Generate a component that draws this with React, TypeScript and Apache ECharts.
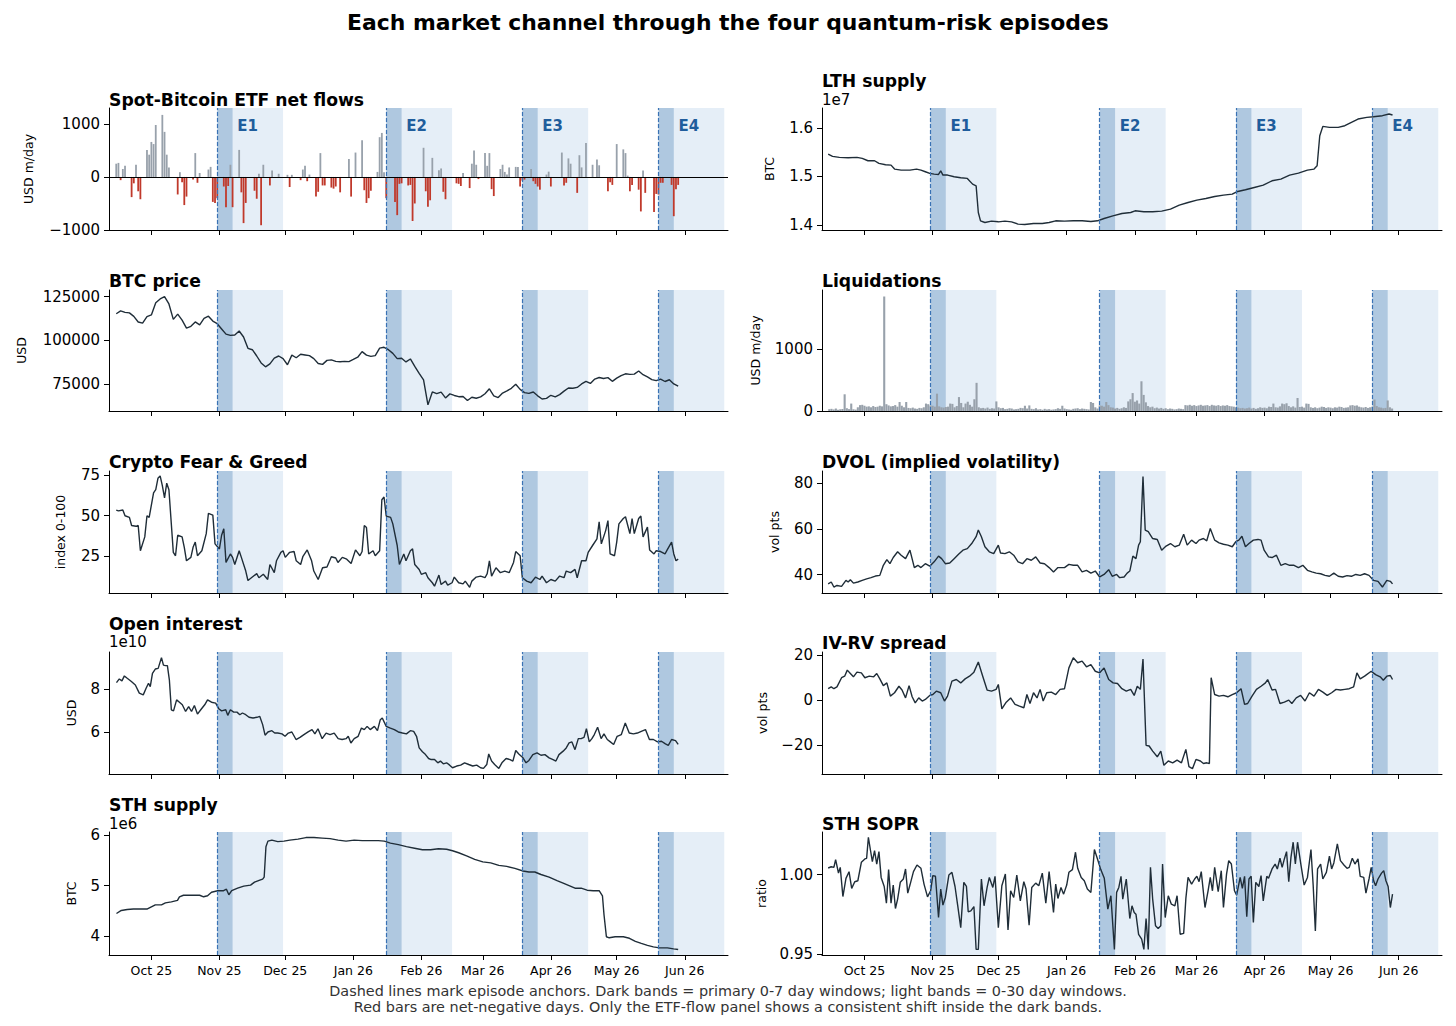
import React, { useEffect, useRef } from "react";
import * as echarts from "echarts";

// ---------------- data ----------------
// All day offsets are days after BASE_DATE.
const BASE_DATE = "2025-10-01";
const X_MIN_DAY = -19.3;
const X_MAX_DAY = 262.7;

const MONTH_TICKS = ["2025-10-01", "2025-11-01", "2025-12-01", "2026-01-01", "2026-02-01", "2026-03-01", "2026-04-01", "2026-05-01", "2026-06-01"];
const MONTH_LABELS = ["Oct 25", "Nov 25", "Dec 25", "Jan 26", "Feb 26", "Mar 26", "Apr 26", "May 26", "Jun 26"];

const EPISODE_NAMES = ["E1", "E2", "E3", "E4"];
const EPISODE_ANCHORS = ["2025-10-31", "2026-01-16", "2026-03-19", "2026-05-20"];
const PRIMARY_WINDOW_DAYS = 7;
const FULL_WINDOW_DAYS = 30;

// Spot-Bitcoin ETF net flows, USD m/day  [day, value]
const etfFlows: [number, number][] = [
  [-16, 250], [-15, 265], [-14, -60], [-13, 150], [-12, 210], [-9, -380], [-8, -120], [-7, 230], [-6, -270], [-5, -420],
  [-2, 510], [-1, 420], [0, 660], [1, 620], [2, 980], [5, 1170], [6, 850], [7, 420], [8, 180], [12, -330],
  [13, 90], [14, -100], [15, -530], [16, -370], [19, -50], [20, 450], [21, -110], [22, 75], [26, 140], [27, 190],
  [28, -470], [29, -490], [30, -400], [33, -180], [34, -570], [35, -170], [36, 230], [37, -570], [40, 510], [41, -290],
  [42, -870], [43, -490], [47, -260], [48, -410], [49, 60], [50, -910], [51, 230], [54, -160], [55, 120], [58, 60],
  [62, 40], [63, -190], [64, 40], [68, -60], [69, 140], [70, 210], [71, -80], [72, 45], [75, -370], [76, -280],
  [77, 450], [78, -160], [79, -160], [82, -200], [83, -220], [84, -180], [86, -290], [90, 340], [91, -370], [93, 460],
  [96, 690], [97, -250], [98, -490], [99, -400], [100, -260], [103, 95], [104, 750], [105, 830], [106, 90], [107, -400],
  [111, -470], [112, -720], [113, -130], [114, -120], [117, -160], [118, -150], [119, -830], [120, -500], [124, 550], [125, -270],
  [126, -560], [127, -440], [128, 360], [131, 125], [132, 160], [133, -280], [134, -420], [139, -120], [140, -130], [141, -170],
  [142, 75], [145, -210], [146, 250], [147, 500], [148, 230], [149, -40], [152, 450], [153, 210], [154, 450], [155, -230],
  [156, -360], [159, 150], [160, 230], [161, 95], [162, 45], [163, 180], [166, 190], [167, 190], [168, -180], [169, -70],
  [170, -50], [173, 150], [174, -80], [175, -130], [176, -180], [177, -240], [180, 45], [181, 100], [182, -180], [187, 460],
  [188, -160], [189, -110], [190, 350], [191, 250], [194, -300], [195, 410], [196, 180], [198, 640], [201, 230], [203, 330],
  [204, 220], [208, -270], [209, -100], [210, -150], [212, 620], [215, 520], [216, 450], [217, 25], [218, -270], [219, -150],
  [222, -240], [223, -650], [224, 120], [225, -300], [229, -660], [230, -320], [231, -330], [232, -110], [233, -110], [237, -150],
  [238, -740], [239, -230], [240, -150],
];

// BTC price, USD, one value every 2 days starting at day -16
const BTC_START_DAY = -16;
const BTC_STEP_DAYS = 2;
const btcPrice: number[] = [
  115200, 116800, 116000, 115700, 113700, 110500, 109800, 113500, 114500, 121500,
  123700, 125000, 120800, 112000, 115000, 111500, 107000, 108000, 110500, 108800,
  112500, 113800, 111000, 109500, 106500, 103500, 102800, 103000, 105300, 101900,
  95400, 94600, 91000, 87000, 84800, 86500, 89800, 91000, 89500, 86000,
  91500, 90000, 92000, 91600, 91200, 89500, 86700, 86200, 88500, 88800,
  87900, 87700, 87900, 87800, 89000, 90300, 93500, 91500, 90800, 91200,
  95500, 96000, 94600, 92500, 89500, 89700, 87600, 89300, 85000, 81000,
  77300, 63000, 70400, 69400, 70300, 67000, 69300, 68400, 67700, 67800,
  65500, 67400, 66800, 67600, 69400, 72200, 68200, 67200, 69800, 71000,
  72500, 74800, 71900, 70000, 69600, 70400, 68200, 66400, 66700, 68500,
  67600, 68900, 70900, 72700, 72500, 73000, 75000, 76500, 75300, 77800,
  78700, 78100, 78600, 76500, 78300, 79800, 80800, 80500, 80600, 82400,
  80300, 79000, 77500, 76900, 77800, 76400, 77400, 75000, 73700,
];

// Crypto Fear & Greed index [day, value]
const fearGreed: [number, number][] = [
  [-16, 53.5], [-15, 53], [-13, 53.5], [-12, 50], [-10, 49], [-9, 44], [-7, 43.5], [-6, 44], [-5, 28.5], [-3, 37],
  [-2, 50], [-1, 49], [1, 64], [2, 66], [3, 73], [4, 74.5], [5, 68.5], [6, 61], [7, 70], [8, 66],
  [10, 27.5], [11, 25.4], [12, 38], [14, 37], [15, 30.6], [16, 22.3], [18, 24.4], [19, 30.6], [20, 33.8], [21, 25.4],
  [23, 28.5], [25, 39], [26, 51.5], [28, 50.4], [29, 32.7], [31, 29.6], [32, 38], [33, 42], [34, 21.3], [36, 26.5],
  [37, 24.4], [38, 20], [40, 28.5], [41, 24.4], [43, 16], [44, 10.2], [46, 12.3], [48, 14.4], [49, 11.9], [51, 14],
  [53, 10.8], [54, 20], [56, 15], [57, 22.3], [59, 27.5], [60, 28.5], [61, 24.4], [63, 27.5], [65, 28], [66, 22.3],
  [68, 20], [69, 24.8], [71, 29], [73, 22.3], [74, 16], [76, 10.8], [78, 18], [80, 18.5], [82, 24.8], [84, 24],
  [85, 21.3], [87, 24.4], [89, 23.3], [91, 20.6], [93, 29], [95, 25.4], [96, 28], [97, 44], [98, 42.7], [99, 26.5],
  [101, 28.5], [102, 25.4], [104, 28.5], [105, 59.8], [106, 61.5], [107, 49.8], [109, 49], [110, 45], [112, 31.7], [113, 20],
  [115, 26.5], [116, 22.3], [118, 28.5], [119, 29.6], [120, 20], [122, 17], [123, 14], [125, 15], [126, 11.9], [128, 8.8],
  [129, 6.7], [131, 13.5], [132, 7.7], [134, 9.8], [135, 7.3], [137, 8.8], [138, 12.3], [140, 8.8], [142, 8.1], [143, 9.8],
  [145, 6], [146, 9.8], [148, 12.3], [150, 12.9], [152, 11.9], [153, 14.4], [154, 22.3], [155, 12.9], [157, 18], [159, 15],
  [161, 16], [163, 15], [165, 21.3], [166, 28], [168, 25.4], [169, 11.9], [171, 9.8], [173, 8.8], [175, 12.3], [177, 10.8],
  [178, 12.9], [180, 8.8], [182, 10.8], [184, 9.8], [186, 12.9], [188, 11.9], [189, 16], [191, 15], [193, 17], [194, 11.9],
  [196, 22.3], [198, 22.3], [199, 27.5], [201, 31.7], [203, 35.8], [204, 46.3], [205, 32.7], [207, 41], [208, 47], [209, 26.5],
  [211, 25.4], [212, 33.8], [213, 45], [215, 48.3], [216, 49.4], [218, 39], [219, 48.3], [220, 39], [222, 48.3], [223, 49.8],
  [224, 37], [226, 43], [227, 29], [229, 26.5], [230, 28.5], [232, 28], [234, 26.5], [235, 29], [237, 33.8], [238, 26.5],
  [239, 22.3], [240, 23.3],
];

// Open interest, units of 1e10 USD [day, value]
const openInterest: [number, number][] = [
  [-15.9, 8.29], [-14.6, 8.46], [-13.4, 8.37], [-12.3, 8.6], [-11, 8.49], [-9.1, 8.34], [-7.3, 8.18], [-5.5, 7.8], [-3.7, 7.72], [-2.4, 8.03],
  [-1.3, 8.26], [-0.5, 8.1], [0.5, 8.72], [1.8, 8.92], [3.1, 8.95], [4.6, 9.45], [5.5, 9.1], [6.4, 9.08], [7.3, 9.08], [8.2, 8.42],
  [9.1, 7.03], [10.1, 6.98], [11.5, 7.49], [12.8, 7.38], [14.1, 7.26], [15.6, 6.95], [17, 7.18], [18.3, 6.95], [19.6, 7.23], [21, 6.83],
  [22.5, 7.03], [24.3, 7.26], [25.6, 7.49], [27.4, 7.38], [29.3, 7.34], [30.7, 7.08], [32, 6.98], [33.9, 7.03], [34.8, 6.77], [36, 7.03],
  [37.5, 6.92], [39, 6.92], [40.3, 6.8], [41.5, 6.88], [43, 6.8], [44.5, 6.68], [46.3, 6.65], [48.1, 6.68], [49.4, 6.72], [50.7, 6.34],
  [51.8, 5.85], [53.1, 6], [54.9, 6.06], [56.2, 5.95], [57.6, 5.95], [59.5, 5.91], [60.9, 5.8], [62.4, 5.95], [64, 6], [65.9, 5.65],
  [67.7, 5.75], [69.5, 5.88], [71.4, 6], [73.2, 6.11], [74.5, 5.91], [75.9, 6.15], [77.8, 5.69], [79.6, 5.95], [81.4, 5.88], [83.3, 5.95],
  [85.1, 5.69], [86.9, 5.65], [88.7, 5.69], [89.7, 5.8], [90.9, 5.49], [92.4, 5.69], [94.2, 5.8], [95.7, 6.18], [97, 6.11], [98.3, 6.26],
  [99.7, 6.11], [101.6, 6.26], [103, 6.06], [104.3, 6.57], [105.2, 6.65], [107, 6.26], [108.9, 6.18], [110.7, 6.11], [112.5, 6], [114.4, 5.95],
  [116.2, 5.91], [118, 6.06], [119.5, 6.03], [120.8, 5.8], [122, 5.26], [123.5, 5.08], [124.9, 4.95], [126.3, 4.77], [127.5, 4.72], [129, 4.72],
  [130.5, 4.57], [131.7, 4.65], [133, 4.52], [134.5, 4.57], [135.9, 4.46], [137.2, 4.34], [139.1, 4.42], [140.9, 4.46], [142.7, 4.57], [144.6, 4.49],
  [146.4, 4.42], [148.2, 4.46], [150, 4.34], [151.3, 4.31], [152.8, 4.49], [153.7, 4.98], [155, 4.65], [156.4, 4.49], [158.3, 4.31], [159.7, 4.57],
  [161.6, 4.77], [163.4, 4.72], [164.7, 4.65], [166, 5.14], [167.4, 4.98], [169.3, 4.8], [170.7, 4.57], [172, 4.68], [173.8, 4.95], [175.7, 5.03],
  [177.5, 4.92], [179.3, 4.95], [181.2, 4.8], [183, 4.72], [184.3, 4.65], [185.7, 4.95], [187.6, 5.11], [189, 5.26], [190.3, 5.49], [191.6, 5.54],
  [193, 5.18], [194.5, 5.69], [195.8, 5.69], [197.1, 5.75], [198.2, 6.15], [199.5, 5.54], [200.7, 5.69], [201.8, 5.88], [203.3, 6.22], [204.9, 5.69],
  [206.2, 5.91], [207.7, 5.65], [209.1, 5.54], [210.6, 5.42], [212.2, 5.8], [214.1, 5.88], [215.9, 6.42], [217.7, 5.95], [219.6, 5.91], [221.4, 5.95],
  [223.2, 6.03], [225.1, 6.11], [226.9, 5.65], [228.7, 5.65], [230.6, 5.54], [232.4, 5.57], [234.2, 5.45], [235.5, 5.38], [237, 5.65], [238.8, 5.6],
  [240, 5.42],
];

// Short-term holder supply, units of 1e6 BTC [day, value]
const sthSupply: [number, number][] = [
  [-15.9, 4.45], [-13.7, 4.51], [-11, 4.53], [-8.2, 4.54], [-4.6, 4.54], [-1.8, 4.54], [0, 4.58], [1.8, 4.62], [4.6, 4.62], [6.4, 4.66],
  [9.1, 4.68], [11.9, 4.71], [12.8, 4.78], [14.6, 4.81], [19.2, 4.81], [22, 4.81], [23.8, 4.78], [25.6, 4.8], [27.4, 4.87], [30.2, 4.9],
  [32.9, 4.9], [34.2, 4.93], [35.3, 4.82], [36.6, 4.9], [39.3, 4.95], [42.1, 4.99], [45.2, 5.01], [47, 5.07], [49.4, 5.11], [50.7, 5.13],
  [51.4, 5.17], [52.2, 5.77], [53.1, 5.88], [54.9, 5.9], [57.6, 5.87], [60.4, 5.88], [63.1, 5.9], [66.8, 5.92], [70.4, 5.95], [74.1, 5.95],
  [77.8, 5.94], [81.4, 5.93], [85.1, 5.9], [88.7, 5.88], [92.4, 5.9], [96.1, 5.89], [99.7, 5.89], [103.4, 5.89], [106.1, 5.88], [108.9, 5.84],
  [112.5, 5.81], [116.2, 5.77], [119.9, 5.74], [123.5, 5.71], [127.2, 5.71], [130.8, 5.73], [134.5, 5.72], [137.2, 5.69], [140, 5.65], [143.6, 5.59],
  [147.3, 5.52], [151, 5.47], [154.6, 5.45], [158.3, 5.4], [161.9, 5.38], [165.6, 5.34], [169.3, 5.29], [172, 5.27], [174.7, 5.27], [177.5, 5.22],
  [181.2, 5.17], [184.8, 5.1], [187.6, 5.05], [190.3, 5], [193, 4.95], [195.8, 4.95], [198.5, 4.91], [201.3, 4.9], [204, 4.9], [205.5, 4.8],
  [206.2, 4.43], [207.3, 3.99], [208.6, 3.97], [211.3, 3.99], [215, 3.99], [217.8, 3.96], [220.5, 3.9], [223.2, 3.86], [226, 3.82], [228.7, 3.79],
  [231.5, 3.77], [235.1, 3.77], [237.9, 3.75], [240, 3.74],
];

// Long-term holder supply, units of 1e7 BTC [day, value]
const lthSupply: [number, number][] = [
  [-16.5, 1.5462], [-14.5, 1.5414], [-11.4, 1.5393], [-7.4, 1.5386], [-3.4, 1.5393], [-1, 1.5372], [1.6, 1.5324], [4.6, 1.5324], [6.6, 1.5269], [9.6, 1.5241],
  [12.1, 1.5234], [13.7, 1.5152], [16.7, 1.5131], [20.7, 1.5131], [23.7, 1.5152], [25.7, 1.5131], [27.7, 1.5097], [29.7, 1.5062], [31.7, 1.5048], [33.7, 1.5041],
  [34.7, 1.5117], [35.7, 1.5028], [37.8, 1.5028], [40.8, 1.4993], [43.8, 1.4972], [46.8, 1.4959], [49.2, 1.4841], [50.8, 1.4807], [51.8, 1.4255], [52.8, 1.4083],
  [54.8, 1.4048], [57.8, 1.4076], [60.9, 1.4062], [63.9, 1.4076], [66.9, 1.4062], [69.9, 1.4014], [72.9, 1.4007], [76.9, 1.4028], [80.9, 1.4028], [84, 1.4048],
  [87, 1.4083], [91, 1.4076], [95, 1.4083], [99, 1.4083], [103, 1.4069], [106, 1.4083], [109, 1.4131], [113, 1.4186], [117.1, 1.4234], [121.1, 1.4255],
  [123.1, 1.429], [127.1, 1.4269], [131.1, 1.4269], [135.2, 1.4283], [139.2, 1.4324], [143.2, 1.4407], [147.2, 1.4462], [151.2, 1.451], [155.3, 1.4545], [159.3, 1.4586],
  [163.3, 1.4614], [167.3, 1.4634], [169.3, 1.4683], [173.3, 1.4724], [177.3, 1.4772], [181.4, 1.4821], [185.4, 1.491], [189.4, 1.4945], [193.4, 1.5028], [197.4, 1.5069],
  [201.5, 1.5131], [204.5, 1.5152], [205.9, 1.5221], [207.1, 1.5841], [208.5, 1.6034], [211.5, 1.6014], [215.5, 1.6014], [218.5, 1.6048], [221.5, 1.6117], [224.5, 1.6186],
  [228.5, 1.6221], [231.5, 1.6234], [235.6, 1.6255], [238.6, 1.629], [240.2, 1.6269],
];

// Liquidations, USD m/day, one value per day starting at day -16
const LIQ_START_DAY = -16;
const liquidations: number[] = [
  30, 35, 25, 40, 20, 28, 32, 270, 45, 30,
  120, 28, 22, 60, 95, 100, 85, 70, 75, 60,
  80, 65, 70, 85, 75, 1850, 110, 90, 75, 80,
  95, 70, 145, 85, 60, 145, 50, 45, 55, 40,
  35, 50, 45, 60, 120, 110, 90, 85, 70, 280,
  75, 60, 55, 65, 70, 120, 115, 60, 80, 225,
  130, 60, 120, 150, 100, 70, 190, 455, 60, 45,
  50, 40, 55, 35, 45, 40, 155, 60, 45, 50,
  30, 35, 45, 40, 25, 30, 35, 50, 45, 85,
  40, 90, 35, 30, 45, 25, 30, 20, 35, 25,
  30, 20, 25, 30, 45, 35, 85, 40, 30, 25,
  20, 35, 40, 45, 30, 40, 35, 30, 25, 145,
  130, 60, 40, 90, 85, 70, 145, 95, 60, 55,
  40, 50, 35, 45, 60, 50, 155, 190, 290, 150,
  170, 120, 480, 260, 140, 80, 60, 70, 45, 55,
  40, 50, 35, 45, 30, 40, 35, 25, 30, 40,
  35, 30, 95, 90, 100, 85, 95, 80, 90, 100,
  85, 90, 95, 80, 100, 90, 85, 95, 80, 90,
  85, 95, 80, 75, 70, 60, 55, 45, 50, 40,
  45, 55, 40, 50, 35, 45, 60, 50, 55, 45,
  70, 65, 120, 60, 55, 75, 120, 110, 125, 80,
  60, 75, 55, 210, 65, 70, 55, 120, 115, 60,
  50, 60, 45, 55, 70, 65, 50, 60, 55, 45,
  60, 55, 70, 65, 50, 55, 60, 90, 95, 85,
  90, 70, 60, 55, 65, 50, 60, 70, 185, 80,
  60, 55, 45, 50, 170, 60, 40,
];

// DVOL implied volatility, vol pts [day, value]
const dvol: [number, number][] = [
  [-16.5, 36], [-15.1, 36.8], [-13.9, 34.6], [-12.5, 35.3], [-10.4, 34.9], [-8.4, 37.5], [-7.4, 36.8], [-6.4, 37.8], [-5, 36.3], [-3, 36.8],
  [-1, 37.5], [1, 38.2], [3, 38.7], [5, 39.4], [7, 39.7], [8.6, 44.1], [10.2, 46.6], [11.6, 44.8], [13.1, 47.5], [15.1, 50],
  [16.7, 48.5], [18.7, 47], [20.7, 50.7], [22.7, 43.1], [24.3, 44.1], [25.7, 43.1], [27.7, 44.8], [29.7, 43.7], [31.7, 45.6], [33.7, 48.1],
  [35.1, 47], [36.8, 44.8], [38.8, 45.1], [40.8, 47], [42.8, 48.9], [44.8, 50.7], [46.8, 51.4], [48.8, 53.6], [50.8, 56.6], [51.8, 59.5],
  [53.2, 56.6], [54.8, 52.2], [56.8, 50], [58.8, 49.2], [60.9, 52.9], [61.9, 49.5], [63.9, 49.2], [65.9, 50], [67.9, 48.5], [69.9, 45.6],
  [71.9, 44.8], [73.9, 47], [75.9, 46.3], [77.9, 47.8], [79.9, 45.1], [81.9, 44.8], [84, 43.1], [86, 41.2], [88, 43.1], [91, 43.1],
  [93, 44.5], [95, 44.1], [97, 44.1], [99, 41.2], [101, 41.9], [103, 40.7], [105, 41.6], [107, 39], [109, 40.1], [111.1, 42.2],
  [112.7, 39.3], [114.7, 40.1], [116.1, 38.7], [118.1, 39], [119.5, 40.7], [120.7, 41.6], [122.1, 48.1], [123.5, 47], [124.7, 52.9], [125.5, 54.4],
  [126.7, 82.9], [127.7, 59.5], [129.1, 58.8], [131.1, 55.8], [133.2, 55.4], [135.2, 50.7], [137.2, 52.5], [139.2, 53.6], [141.2, 52.2], [143.2, 52.9],
  [145.2, 57.7], [146.8, 52.9], [148.8, 55.1], [150.8, 53.6], [152.2, 55.1], [154.2, 55.8], [155.7, 54.8], [157.3, 60.2], [159.3, 55.1], [161.3, 53.9],
  [163.3, 53.3], [165.3, 52.9], [167.3, 52.2], [168.9, 54.4], [170.3, 55.1], [171.7, 56.8], [173.3, 52.2], [174.9, 53.6], [176.9, 55.1], [179, 55.4],
  [180.4, 55.1], [181.8, 50.7], [183.8, 47.8], [185.4, 47.5], [187.4, 48.5], [189.4, 44.1], [191.4, 44.8], [193.4, 44.1], [195.4, 44.1], [197.4, 43.1],
  [199.4, 44.1], [201.5, 41.9], [203.5, 41.2], [205.5, 40.7], [207.5, 40.4], [209.5, 39.7], [211.5, 39.3], [213.5, 40.7], [215.5, 39.3], [217.5, 39],
  [219.5, 39.6], [221.5, 39.3], [223.5, 40.1], [225.5, 39.7], [227.5, 40.4], [229.5, 39.7], [231.6, 37.5], [233.6, 37.1], [235.6, 34.6], [237.6, 37.5],
  [239.2, 37.1], [240.2, 36],
];

// IV-RV spread, vol pts [day, value]
const ivRvSpread: [number, number][] = [
  [-16.5, 5.1], [-15.1, 5.9], [-13.9, 5.1], [-12.5, 5.9], [-10.4, 10], [-9, 10.7], [-7.8, 13.4], [-6.4, 11.9], [-5, 10.4], [-3.4, 12.5],
  [-1.4, 12.2], [0.2, 10], [2.2, 10.7], [4.2, 10.4], [5.6, 11.9], [7, 9.5], [8.6, 6.5], [10.2, 7.7], [11.8, 1.8], [13.7, 3.3],
  [15.7, 6.2], [17.1, 4.5], [18.7, 1], [20.3, 6.5], [21.7, 1.5], [23.1, -1.2], [24.7, 1], [26.3, -0.4], [27.7, 0.3], [29.7, 2.1],
  [31.1, 2.5], [32.7, 4], [34.7, 3.3], [36.4, -0.4], [37.8, 1.8], [39.8, 8.5], [41.8, 9.2], [43.8, 7.7], [45.8, 9.5], [47.8, 10.7],
  [49.8, 12.5], [51.8, 17], [53.8, 10.7], [55.8, 4.5], [57.8, 4], [59.9, 4.8], [60.9, 7], [62.5, -3.9], [64.5, -0.9], [66.5, 1],
  [68.5, -1.9], [70.5, -2.7], [72.5, -3.4], [73.9, 2.5], [75.3, -1.5], [76.9, 3.3], [78.5, 1], [79.9, 4.8], [81.3, -0.4], [82.9, 3.3],
  [85, 3.6], [87, 2.5], [89, 4.8], [91, 5.1], [93, 14.4], [95, 18.9], [97, 16.7], [99, 17.4], [101, 14.9], [103, 15.9],
  [105, 12.9], [107, 12.2], [109, 14.4], [111.1, 9.2], [113.1, 7.7], [115.1, 7.4], [117.1, 5.1], [119.1, 4], [121.1, 4.8], [122.7, 2.1],
  [124.1, 6.2], [125.5, 4.8], [126.7, 18.4], [128.1, -20.2], [129.5, -20.5], [131.1, -22.8], [133.2, -25.3], [134.8, -22.8], [136.2, -29.1], [138.2, -27.2],
  [140.2, -28], [142.2, -26.8], [144.2, -28], [146.2, -22], [147.6, -29.7], [149.2, -30.6], [150.8, -26.5], [152.8, -27.2], [154.2, -28.3], [155.7, -28],
  [156.9, -28.3], [157.7, 10], [159.3, 2.5], [161.3, 1.8], [163.3, 2.1], [165.3, 1.5], [167.3, 2.5], [169.3, 3.3], [171.3, 5.1], [172.9, -1.9],
  [174.3, -1.5], [176.3, 1.8], [178.3, 4.8], [180.4, 6.2], [182.4, 7.7], [183.4, 9.2], [185.4, 4.5], [187, 4.8], [189, -1.5], [191, -0.9],
  [193, 0], [194.4, -1.5], [196.4, 1], [198.4, 2.1], [200.4, -0.4], [202.4, 3.3], [204.5, 1.8], [206.5, 4.8], [208.5, 3.6], [210.5, 2.1],
  [212.5, 3.3], [214.5, 4.8], [216.5, 4.5], [218.5, 4.8], [220.5, 5.1], [222.5, 5.9], [224, 12.2], [225.5, 9.5], [227.5, 10.7], [230.5, 12.9],
  [232.5, 11.4], [234.6, 10.4], [236, 8.9], [237.6, 10.7], [239.2, 11], [240.2, 9.2],
];

// STH SOPR, ratio [day, value]
const sthSopr: [number, number][] = [
  [-16.5, 1.0042], [-15.1, 1.005], [-13.9, 1.0046], [-13.1, 1.0095], [-11.8, 1.001], [-11, 1.0046], [-9.8, 0.9863], [-8.4, 0.9977], [-7, 1.0019], [-5.8, 0.9914],
  [-4.4, 0.9956], [-3, 0.9962], [-1.4, 1.0078], [0.2, 1.0099], [1, 1.0103], [1.8, 1.0235], [2.6, 1.0166], [3.6, 1.0082], [4.6, 1.0151], [5.6, 1.0067],
  [6.6, 1.0145], [7.6, 0.9983], [9, 0.9926], [10, 0.9821], [11, 1.0032], [12.1, 0.9821], [13.1, 0.9935], [14.1, 0.9788], [15.1, 0.9847], [16.3, 0.9952],
  [17.7, 0.9973], [18.7, 1.0036], [19.7, 0.9884], [20.7, 0.9935], [22.3, 1.0019], [23.9, 1.0061], [25.7, 1.004], [27.1, 0.9941], [28.7, 0.9861], [30.1, 0.9899],
  [31.1, 0.9994], [32.3, 0.999], [33.7, 0.9731], [34.7, 0.991], [35.7, 0.9809], [36.8, 0.9857], [38.4, 0.9998], [39.8, 1.0015], [41.2, 0.9926], [42.4, 0.9809],
  [43.8, 0.9668], [45.2, 0.9952], [46.4, 0.9926], [47.2, 0.9767], [48.4, 0.9773], [49.8, 0.98], [50.8, 0.9531], [51.8, 0.9531], [53.2, 0.9973], [54.4, 0.9805],
  [55.8, 0.992], [56.8, 0.9983], [58.4, 0.992], [59.4, 0.999], [60.9, 0.9668], [62.5, 0.9931], [64.1, 1.0004], [65.3, 0.9653], [66.5, 0.9899], [67.9, 0.9857],
  [69.3, 0.9998], [70.9, 0.9836], [72.5, 0.9956], [73.5, 0.991], [74.9, 0.9683], [76.1, 0.992], [77.9, 0.9947], [79.3, 0.9931], [80.9, 1.001], [82.5, 0.9821],
  [84, 1.0019], [86, 0.9763], [87, 0.9941], [88, 0.9851], [89.4, 0.992], [90.6, 0.9878], [92, 0.9935], [93, 1.0015], [94.6, 1.0032], [96, 1.0141],
  [97, 1.004], [98.6, 0.9983], [100, 0.9962], [101.4, 0.991], [103, 0.9889], [104.6, 1.0158], [106, 1.0099], [107.5, 1.0032], [109.1, 0.9977], [110.7, 0.9784],
  [112.1, 0.9868], [113.7, 0.9531], [114.7, 0.9889], [115.7, 0.992], [116.7, 0.999], [117.5, 0.9847], [119.1, 0.9973], [120.7, 0.9725], [121.7, 0.9805], [122.7, 0.9763],
  [123.5, 0.9752], [124.7, 0.9626], [126.1, 0.9595], [127.1, 0.9531], [128.1, 0.9725], [129.1, 0.9531], [130.1, 1.0046], [131.1, 0.9847], [132.4, 0.9679], [133.6, 0.9662],
  [134.8, 0.9679], [135.6, 1.0067], [136.8, 0.9731], [138.2, 0.9868], [139.6, 0.9815], [141.2, 0.9805], [142.2, 0.9868], [143.6, 0.9626], [145.2, 0.9632], [146.2, 0.9851],
  [147.2, 0.9983], [148.8, 0.9941], [150.2, 0.9973], [151.2, 0.999], [152.2, 0.9956], [153.2, 1.0019], [154.9, 0.9794], [156.3, 0.9899], [157.3, 0.9983], [158.3, 0.9899],
  [159.3, 1.0046], [160.9, 0.9893], [162.3, 1.0025], [163.3, 0.9794], [164.7, 1.0004], [165.7, 1.0088], [166.9, 1.0067], [168.3, 0.9899], [169.3, 0.9872], [170.9, 0.9983],
  [171.9, 0.9914], [172.9, 0.999], [173.9, 0.9737], [174.9, 0.9973], [175.9, 0.999], [176.9, 0.97], [178, 0.9952], [179.4, 0.9926], [180.4, 0.9994], [181.4, 0.9836],
  [183, 0.999], [183.8, 0.9977], [185.4, 1.0036], [186.8, 1.0067], [187.8, 1.0036], [189, 1.0103], [190, 1.0046], [191, 1.0099], [192, 1.0145], [193, 0.9956],
  [194, 1.0109], [195, 1.0204], [196, 1.0067], [197, 1.0204], [198.4, 1.0074], [200, 0.9935], [201.5, 0.9983], [203.1, 1.0158], [204.1, 0.9935], [205.1, 0.9647],
  [206.1, 1.0036], [207.5, 1.0067], [208.5, 0.9973], [210.1, 1.0015], [211.5, 1.0116], [212.5, 1.0036], [213.5, 1.0074], [215.1, 1.0193], [216.5, 1.0088], [218.1, 1.0061],
  [219.5, 1.004], [220.5, 1.0046], [221.9, 1.0103], [223.1, 1.0067], [224.5, 1.0099], [225.5, 0.999], [227.1, 0.9983], [228.1, 0.9884], [229.5, 0.9973], [230.5, 1.0046],
  [231.6, 0.9962], [232.5, 0.9931], [233.6, 0.9973], [235.2, 1.001], [236.2, 1.0025], [237.2, 0.9962], [238.2, 0.9926], [239.2, 0.9794], [240.2, 0.9878],
];

// axis tick values per panel
const ETF_TICKS = [-1000, 0, 1000];
const BTC_TICKS = [75000, 100000, 125000];
const FG_TICKS = [25, 50, 75];
const OI_TICKS = [6, 8];
const STH_TICKS = [4, 5, 6];
const LTH_TICKS = [1.4, 1.5, 1.6];
const LIQ_TICKS = [0, 1000];
const DVOL_TICKS = [40, 60, 80];
const IVRV_TICKS = [-20, 0, 20];
const SOPR_TICKS = [0.95, 1.0];

// ---------------- styling / layout ----------------
const FONT = "DejaVu Sans";
const LINE_COLOR = "#1f2d38";
const BAR_GREY = "#98a1ab";
const BAR_RED = "#c0392b";
const BAND_DARK = "#afc8e0";
const BAND_LIGHT = "#e5eef7";
const DASH_COLOR = "#3a72b4";
const ELABEL_COLOR = "#1f5d9c";

const COLS = [
  { left: 109, width: 619 },
  { left: 822, width: 620 },
];
const ROWS = [
  { top: 108, height: 122 },
  { top: 290, height: 121 },
  { top: 471, height: 122 },
  { top: 652, height: 122 },
  { top: 832, height: 123 },
];

const DAY_MS = 86400000;
const parseDate = (s: string) => Date.parse(s + "T00:00:00Z");
const BASE_MS = parseDate(BASE_DATE);
const dayToMs = (d: number) => BASE_MS + d * DAY_MS;
const MONTH_MS = MONTH_TICKS.map(parseDate);
const ANCHOR_MS = EPISODE_ANCHORS.map(parseDate);

const minusFmt = (v: number) => (v < 0 ? "\u2212" : "") + String(Math.abs(v));

type Panel = {
  title: string;
  ylabel: string;
  col: number;
  row: number;
  kind: "line" | "etf" | "liq";
  data: [number, number][];
  min: number;
  max: number;
  ticks: number[];
  fmt: (v: number) => string;
  nameGap: number;
  titleY: number;
  offsetText?: { text: string; y: number };
};

const pairs = (arr: [number, number][]) => arr.map(([d, v]) => [dayToMs(d), v] as [number, number]);

const PANELS: Panel[] = [
  {
    title: "Spot-Bitcoin ETF net flows", ylabel: "USD m/day", col: 0, row: 0, kind: "etf",
    data: pairs(etfFlows), min: -1000, max: 1300, ticks: ETF_TICKS, fmt: minusFmt, nameGap: 74, titleY: 100,
  },
  {
    title: "BTC price", ylabel: "USD", col: 0, row: 1, kind: "line",
    data: btcPrice.map((v, i) => [dayToMs(BTC_START_DAY + i * BTC_STEP_DAYS), v] as [number, number]),
    min: 59500, max: 128800, ticks: BTC_TICKS, fmt: minusFmt, nameGap: 81, titleY: 281,
  },
  {
    title: "Crypto Fear & Greed", ylabel: "index 0-100", col: 0, row: 2, kind: "line",
    data: pairs(fearGreed), min: 2.5, max: 77.5, ticks: FG_TICKS, fmt: minusFmt, nameGap: 42, titleY: 462,
  },
  {
    title: "Open interest", ylabel: "USD", col: 0, row: 3, kind: "line",
    data: pairs(openInterest), min: 4.05, max: 9.71, ticks: OI_TICKS, fmt: minusFmt, nameGap: 31, titleY: 623.5,
    offsetText: { text: "1e10", y: 642 },
  },
  {
    title: "STH supply", ylabel: "BTC", col: 0, row: 4, kind: "line",
    data: pairs(sthSupply), min: 3.63, max: 6.06, ticks: STH_TICKS, fmt: minusFmt, nameGap: 31, titleY: 805,
    offsetText: { text: "1e6", y: 823.5 },
  },
  {
    title: "LTH supply", ylabel: "BTC", col: 1, row: 0, kind: "line",
    data: pairs(lthSupply), min: 1.3893, max: 1.6414, ticks: LTH_TICKS, fmt: (v) => v.toFixed(1), nameGap: 46, titleY: 81,
    offsetText: { text: "1e7", y: 99.5 },
  },
  {
    title: "Liquidations", ylabel: "USD m/day", col: 1, row: 1, kind: "liq",
    data: liquidations.map((v, i) => [dayToMs(LIQ_START_DAY + i), v] as [number, number]),
    min: 0, max: 1955, ticks: LIQ_TICKS, fmt: minusFmt, nameGap: 60, titleY: 281,
  },
  {
    title: "DVOL (implied volatility)", ylabel: "vol pts", col: 1, row: 2, kind: "line",
    data: pairs(dvol), min: 32, max: 85.3, ticks: DVOL_TICKS, fmt: minusFmt, nameGap: 41, titleY: 462,
  },
  {
    title: "IV-RV spread", ylabel: "vol pts", col: 1, row: 3, kind: "line",
    data: pairs(ivRvSpread), min: -33, max: 21.5, ticks: IVRV_TICKS, fmt: minusFmt, nameGap: 53.5, titleY: 643,
  },
  {
    title: "STH SOPR", ylabel: "ratio", col: 1, row: 4, kind: "line",
    data: pairs(sthSopr), min: 0.9496, max: 1.0268, ticks: SOPR_TICKS, fmt: (v) => v.toFixed(2), nameGap: 54.5, titleY: 824,
  },
];

const MAIN_TITLE = "Each market channel through the four quantum-risk episodes";
const FOOTER_LINES = [
  "Dashed lines mark episode anchors. Dark bands = primary 0-7 day windows; light bands = 0-30 day windows.",
  "Red bars are net-negative days. Only the ETF-flow panel shows a consistent shift inside the dark bands.",
];

function monthLabel(v: number) {
  let best = 0;
  let bestDist = Infinity;
  MONTH_MS.forEach((m, k) => {
    const dd = Math.abs(m - v);
    if (dd < bestDist) {
      bestDist = dd;
      best = k;
    }
  });
  return bestDist < DAY_MS ? MONTH_LABELS[best] : "";
}

function buildOption() {
  const grid: any[] = [];
  const xAxis: any[] = [];
  const yAxis: any[] = [];
  const series: any[] = [];
  const graphic: any[] = [];

  PANELS.forEach((p, i) => {
    const c = COLS[p.col];
    const r = ROWS[p.row];
    grid.push({ left: c.left, top: r.top, width: c.width, height: r.height, containLabel: false, outerBoundsMode: "none" });

    xAxis.push({
      type: "value",
      gridIndex: i,
      min: dayToMs(X_MIN_DAY),
      max: dayToMs(X_MAX_DAY),
      axisLine: { show: true, onZero: false, lineStyle: { color: "#000", width: 1 } },
      axisTick: { show: true, length: 5, customValues: MONTH_MS, lineStyle: { color: "#000", width: 1 } },
      axisLabel: {
        show: p.row === 4,
        customValues: MONTH_MS,
        formatter: (v: number) => monthLabel(v),
        fontSize: 12.5,
        color: "#000",
        margin: 9,
        fontFamily: FONT,
      },
      splitLine: { show: false },
    });

    yAxis.push({
      type: "value",
      gridIndex: i,
      min: p.min,
      max: p.max,
      axisLine: { show: true, onZero: false, lineStyle: { color: "#000", width: 1 } },
      axisTick: { show: true, length: 5, customValues: p.ticks, lineStyle: { color: "#000", width: 1 } },
      axisLabel: { customValues: p.ticks, formatter: p.fmt, fontSize: 15, color: "#000", margin: 9, fontFamily: FONT },
      splitLine: { show: false },
      name: p.ylabel,
      nameLocation: "middle",
      nameGap: p.nameGap,
      nameRotate: 90,
      nameTextStyle: { fontSize: 12.5, color: "#000", fontFamily: FONT },
    });

    const markAreaData: any[] = [];
    ANCHOR_MS.forEach((a, k) => {
      markAreaData.push([
        {
          xAxis: a,
          name: EPISODE_NAMES[k],
          itemStyle: { color: BAND_LIGHT },
          label: {
            show: p.row === 0,
            position: "insideTopLeft",
            offset: [15, 5],
            color: ELABEL_COLOR,
            fontWeight: "bold",
            fontSize: 15,
            fontFamily: FONT,
          },
        },
        { xAxis: a + FULL_WINDOW_DAYS * DAY_MS },
      ]);
      markAreaData.push([
        { xAxis: a, itemStyle: { color: BAND_DARK }, label: { show: false } },
        { xAxis: a + PRIMARY_WINDOW_DAYS * DAY_MS },
      ]);
    });

    const markLineData: any[] = ANCHOR_MS.map((a) => ({ xAxis: a }));
    if (p.kind === "etf") {
      markLineData.push({ yAxis: 0, lineStyle: { type: "solid", color: "#000", width: 1.2 } });
    }

    const common = {
      xAxisIndex: i,
      yAxisIndex: i,
      silent: true,
      animation: false,
      markArea: { silent: true, label: { show: false }, data: markAreaData },
      markLine: {
        silent: true,
        symbol: ["none", "none"],
        label: { show: false },
        lineStyle: { type: [4, 2], color: DASH_COLOR, width: 1.2 },
        data: markLineData,
      },
    };

    if (p.kind === "line") {
      series.push({
        ...common,
        type: "line",
        data: p.data,
        showSymbol: false,
        symbol: "none",
        lineStyle: { color: LINE_COLOR, width: 1.4 },
        z: 3,
      });
    } else {
      series.push({
        ...common,
        type: "bar",
        data: p.data,
        barWidth: p.kind === "etf" ? 1.8 : 2.1,
        itemStyle: {
          color: (params: any) => (p.kind === "etf" && params.value[1] < 0 ? BAR_RED : BAR_GREY),
        },
        z: 3,
      });
    }

    graphic.push({
      type: "text",
      x: c.left,
      y: p.titleY,
      style: { text: p.title, fontSize: 17.2, fontWeight: "bold", fill: "#000", fontFamily: FONT, align: "left", verticalAlign: "middle" },
    });
    if (p.offsetText) {
      graphic.push({
        type: "text",
        x: c.left,
        y: p.offsetText.y,
        style: { text: p.offsetText.text, fontSize: 15, fill: "#000", fontFamily: FONT, align: "left", verticalAlign: "middle" },
      });
    }
  });

  graphic.push({
    type: "text",
    x: 728,
    y: 22,
    style: { text: MAIN_TITLE, fontSize: 21.9, fontWeight: "bold", fill: "#000", fontFamily: FONT, align: "center", verticalAlign: "middle" },
  });
  FOOTER_LINES.forEach((line, k) => {
    graphic.push({
      type: "text",
      x: 728,
      y: 990.5 + k * 16,
      style: { text: line, fontSize: 14.4, fill: "#333", fontFamily: FONT, align: "center", verticalAlign: "middle" },
    });
  });

  return {
    animation: false,
    backgroundColor: "#ffffff",
    textStyle: { fontFamily: FONT },
    grid,
    xAxis,
    yAxis,
    series,
    graphic,
  };
}

export default function App() {
  const ref = useRef<HTMLDivElement>(null);
  useEffect(() => {
    if (!ref.current) return;
    const chart = echarts.init(ref.current, undefined, { renderer: "svg" });
    chart.setOption(buildOption() as any);
    return () => chart.dispose();
  }, []);
  return <div ref={ref} style={{ position: "absolute", left: 0, top: 0, width: 1456, height: 1026, background: "#fff" }} />;
}
